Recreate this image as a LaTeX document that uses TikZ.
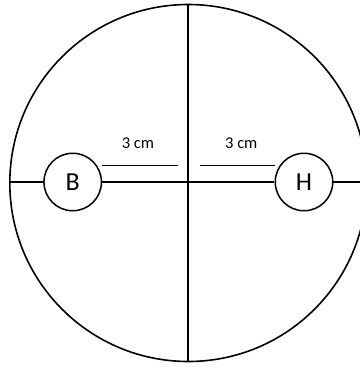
\documentclass[tikz,border=0pt]{standalone}
\usepackage{fontspec}
\setmainfont{Carlito}
\begin{document}
\begin{tikzpicture}[x=1pt,y=-1pt,
  main/.style={line width=1.6pt},
  dimline/.style={line width=0.9pt},
  ball/.style={circle,draw,line width=1.5pt,minimum size=57.5pt,inner sep=0pt,font=\fontsize{26}{28}\selectfont,fill=white},
  lbl/.style={font=\fontsize{16.5}{18}\selectfont,inner sep=0pt}]
\useasboundingbox (0,0) rectangle (360,368);
\clip (0,0) rectangle (360,368);
\node[circle,draw,main,minimum size=357pt,inner sep=0pt] (big) at (188.3,183) {};
\coordinate (ctr) at (188.3,182);
\coordinate (left) at (big.west |- ctr);
\coordinate (right) at (big.east |- ctr);
\draw[main] (big.north) -- (big.south);
\node[ball] (B) at (72.7,182) {B};
\node[ball] (H) at (304,182) {H};
\draw[main] (left) -- (B) -- (H) -- (right);
\coordinate (d1a) at (102.3,165);
\coordinate (d1b) at (177.7,165);
\coordinate (d2a) at (200,165);
\coordinate (d2b) at (275.3,165);
\draw[dimline] (d1a) -- (d1b);
\draw[dimline] (d2a) -- (d2b);
\node[lbl] (l1) at (138,143.5) {3 cm};
\node[lbl] (l2) at (241.3,143.5) {3 cm};
\end{tikzpicture}
\end{document}
